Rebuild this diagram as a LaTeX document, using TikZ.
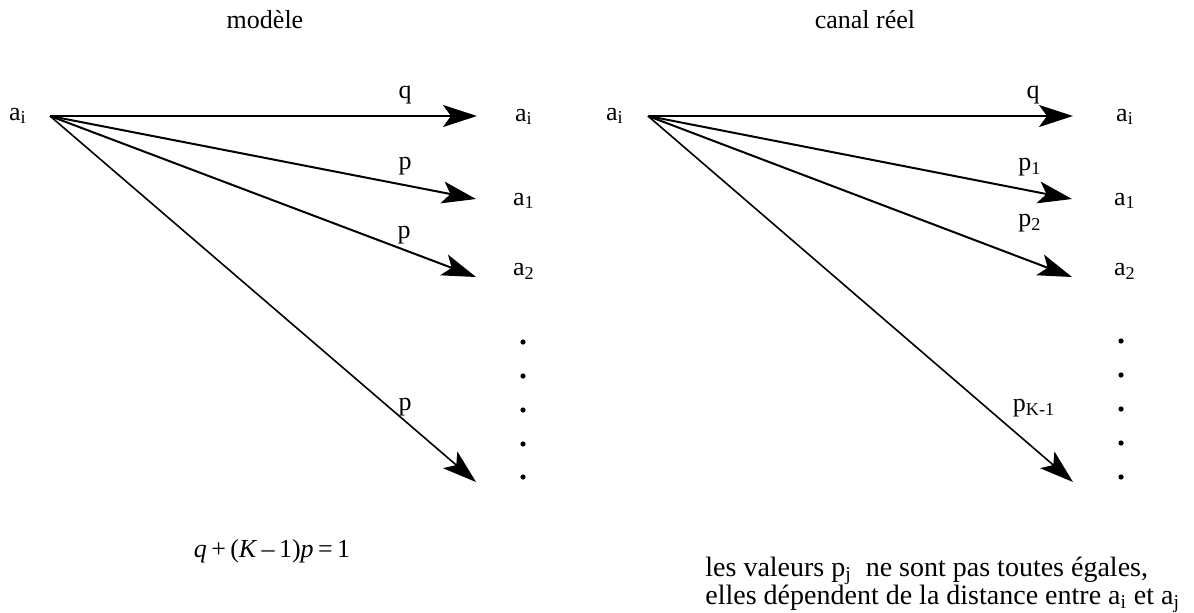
\documentclass[tikz,border=0pt]{standalone}
\usepackage{fontspec}
\setmainfont{Liberation Serif}
\usetikzlibrary{arrows.meta}
\newcommand{\lbl}{\fontsize{13}{15}\selectfont}
\newcommand{\txt}{\fontsize{14}{14}\selectfont}
\newcommand{\sym}[2]{#1\textsubscript{#2}}
\tikzset{kanal/.style={line width=1pt,-{Stealth[length=17pt,width=11pt,inset=4pt]}},
  kanalfin/.style={kanal,line width=0.8pt},
  etiq/.style={inner sep=0,font=\lbl},
  point/.style={circle,fill=black,inner sep=0,minimum size=2.6pt}}
\begin{document}
\begin{tikzpicture}[x=0.5pt,y=-0.5pt]
\useasboundingbox (0,0) rectangle (1194,612);
% modele
\node[etiq] (titreg) at (265,20) {modèle};
\node[etiq] (srcg) at (18,116) {\sym{a}{i}};
\coordinate (og) at (50,116);
\coordinate (tq) at (477,116);
\coordinate (t1) at (476,199);
\coordinate (t2) at (476,277);
\coordinate (tk) at (476,482);
\draw[kanal] (og) -- (tq);
\draw[kanal] (og) -- (t1);
\draw[kanal] (og) -- (t2);
\draw[kanalfin] (og) -- (tk);
\node[etiq] (lq) at (405,95) {q};
\node[etiq] (l1) at (405,166) {p};
\node[etiq] (l2) at (404,235) {p};
\node[etiq] (lk) at (405,407) {p};
\node[etiq] (ai) at (524,117) {\sym{a}{i}};
\node[etiq] (a1) at (524,201) {\sym{a}{1}};
\node[etiq] (a2) at (524,271) {\sym{a}{2}};
\foreach \y in {342,376,410,444,477} \node[point] at (523,\y) {};
\node[etiq] (eq) at (272,551) {\textit{q}\,+\,(\textit{K}\,–\,1)\textit{p}\,=\,1};
% canal reel
\node[etiq] (titred) at (865,20) {canal réel};
\node[etiq] (srcd) at (615,116) {\sym{a}{i}};
\coordinate (od) at (648,116);
\coordinate (uq) at (1073,116);
\coordinate (u1) at (1072,199);
\coordinate (u2) at (1072,277);
\coordinate (uk) at (1073,482);
\draw[kanal] (od) -- (uq);
\draw[kanal] (od) -- (u1);
\draw[kanal] (od) -- (u2);
\draw[kanalfin] (od) -- (uk);
\node[etiq] (mq) at (1033,95) {q};
\node[etiq] (m1) at (1030,167) {\sym{p}{1}};
\node[etiq] (m2) at (1030,223) {\sym{p}{2}};
\node[etiq] (mk) at (1034,408) {\sym{p}{K-1}};
\node[etiq] (bi) at (1125,117) {\sym{a}{i}};
\node[etiq] (b1) at (1125,201) {\sym{a}{1}};
\node[etiq] (b2) at (1125,271) {\sym{a}{2}};
\foreach \y in {341,375,409,443,477} \node[point] at (1121,\y) {};
\node[inner sep=0,font=\txt,anchor=base west,align=left] (note) at (705,604)
  {les valeurs \sym{p}{j}\ \ ne sont pas toutes égales,\\
   elles dépendent de la distance entre \sym{a}{i} et \sym{a}{j}};
\end{tikzpicture}
\end{document}
